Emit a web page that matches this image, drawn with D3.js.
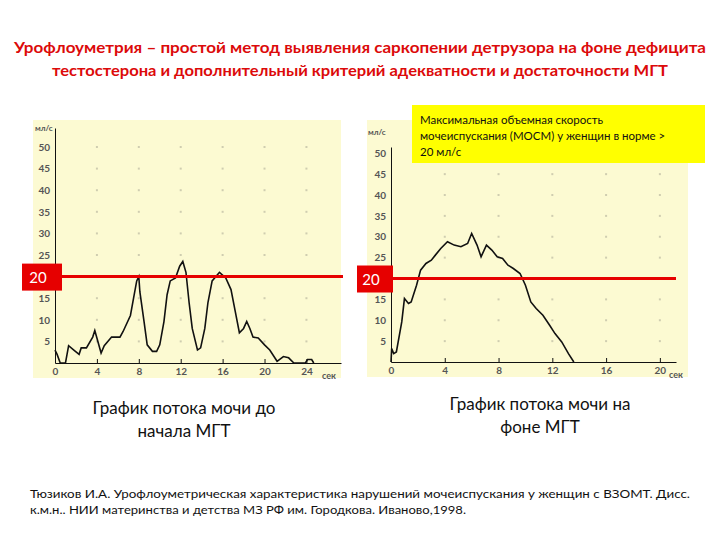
<!DOCTYPE html>
<html>
<head>
<meta charset="utf-8">
<script src="https://cdn.jsdelivr.net/npm/d3@7"></script>
<style>
  body { margin: 0; background: #fff; }
  text { font-family: Lato, "Open Sans", sans-serif; }
</style>
</head>
<body>
<div id="chart"></div>
<script>
// flow before therapy (sec, ml/s)
var beforeTime = [0, 0.2, 0.5, 1, 1.3, 1.8, 2.3, 2.5, 3, 3.6, 3.8, 4.4, 4.7, 5.4, 6.2, 6.5, 7.2, 7.5, 7.8, 8, 8.1, 8.5, 8.8, 9.3, 9.7, 10, 10.4, 10.7, 11, 11.5, 11.9, 12.2, 12.5, 12.8, 13.1, 13.6, 13.9, 14.3, 14.6, 15, 15.7, 16.3, 16.8, 17.2, 17.6, 18, 18.3, 18.6, 18.9, 19.4, 20, 20.5, 21.2, 21.8, 22.3, 22.8, 23.9, 24.1, 24.5, 24.7]
var beforeFlow = [3, 2, 0, 0, 4, 3, 2, 3.5, 3.5, 6, 7.5, 2.3, 4, 6, 6, 7.3, 11, 15, 19, 20, 16.5, 9.6, 4.2, 2.7, 2.7, 4.2, 9.6, 15.8, 19, 19.7, 22.4, 23.5, 21, 14, 8, 3, 3.5, 8, 14, 19, 21, 19.7, 17, 12, 7, 8, 9.6, 8, 6, 5.8, 4.2, 3, 0.4, 1.5, 1.2, 0, 0, 0.8, 0.8, 0]

// flow on therapy
var afterTime = [0, 0.05, 0.2, 0.4, 0.8, 1, 1.3, 1.5, 1.9, 2.2, 2.6, 3, 3.3, 3.7, 4.2, 4.7, 5.2, 5.7, 6, 6.4, 6.7, 7.1, 7.5, 7.9, 8.3, 8.7, 9.1, 9.6, 10, 10.4, 10.8, 11.3, 11.8, 12.2, 12.7, 13.2, 13.6]
var afterFlow = [0, 3.2, 2, 2.4, 9.6, 15.2, 14, 14.4, 18.4, 22, 23.6, 24.4, 25.6, 27.2, 28.8, 28, 27.6, 28.4, 30.8, 28, 25.2, 28, 26.8, 25.2, 24.8, 23.2, 22.4, 21.2, 18.4, 14.4, 12.8, 11.2, 8.8, 6.8, 4.8, 2, 0]

var yTicks = [5, 10, 15, 20, 25, 30, 35, 40, 45, 50]
var beforeXTicks = [0, 4, 8, 12, 16, 20, 24]
var afterXTicks = [0, 4, 8, 12, 16, 20]
var normFlow = 20

var titleLines = ['Урофлоуметрия –  простой  метод выявления саркопении детрузора  на фоне дефицита',
    'тестостерона и дополнительный критерий  адекватности и достаточности МГТ']
var noteLines = ['Максимальная  объемная скорость', 'мочеиспускания (МОСМ) у женщин в норме >', '20 мл/с']
var captionBefore = ['График потока мочи  до', 'начала МГТ']
var captionAfter = ['График потока  мочи на', 'фоне МГТ']
var sourceLines = ['Тюзиков   И.А. Урофлоуметрическая   характеристика нарушений  мочеиспускания  у  женщин  с  ВЗОМТ.  Дисс.',
    'к.м.н..  НИИ материнства и детства МЗ РФ им. Городкова.  Иваново,1998.']

var svg = d3.select('#chart').append('svg')
    .attr('width', 720)
    .attr('height', 540)

// title
svg.selectAll('.title')
    .data(titleLines)
    .enter().append('text')
    .attr('x', 360)
    .attr('y', (d, i) => 53 + i * 23)
    .attr('text-anchor', 'middle')
    .attr('font-size', 15)
    .attr('font-weight', 'bold')
    .attr('fill', '#dc0a0a')
    .attr('textLength', (d, i) => i == 0 ? 692 : 616)
    .attr('lengthAdjust', 'spacingAndGlyphs')
    .text(d => d)

function drawPanel(cfg) {
    var g = svg.append('g')

    g.append('rect')
        .attr('x', cfg.bg[0]).attr('y', cfg.bg[1])
        .attr('width', cfg.bg[2]).attr('height', cfg.bg[3])
        .attr('fill', '#fcfad2')

    var x = d3.scaleLinear().domain(cfg.xDomain).range(cfg.xRange)
    var y = d3.scaleLinear().domain(cfg.yDomain).range(cfg.yRange)

    // grid marks at tick crossings
    var cross = []
    cfg.xTicks.slice(1).forEach(a => yTicks.forEach(b => cross.push([a, b])))
    g.selectAll('.dot')
        .data(cross)
        .enter().append('rect')
        .attr('x', d => x(d[0]) - 1)
        .attr('y', d => y(d[1]) - 1)
        .attr('width', 2).attr('height', 2)
        .attr('fill', '#cfcdb0')

    var xAxis = g.append('g')
        .attr('transform', 'translate(0,' + cfg.yRange[0] + ')')
        .call(d3.axisBottom(x).tickValues(cfg.xTicks).tickSizeInner(-4).tickSizeOuter(0).tickPadding(5))
    // the 20 label sits under the red marker, so it is left out
    var yAxis = g.append('g')
        .attr('transform', 'translate(' + cfg.xRange[0] + ',0)')
        .call(d3.axisLeft(y).tickValues(yTicks.filter(v => v != normFlow)).tickSize(0).tickPadding(5))

    ;[xAxis, yAxis].forEach(a => {
        a.select('.domain').attr('stroke', '#111')
        a.selectAll('line').attr('stroke', '#111')
        a.selectAll('text')
            .attr('font-family', '"DejaVu Sans Condensed", "DejaVu Sans", sans-serif')
            .attr('font-size', 10)
            .attr('font-weight', 'bold')
            .attr('fill', '#555')
    })

    g.append('text')
        .attr('x', cfg.unitPos[0]).attr('y', cfg.unitPos[1])
        .attr('font-family', '"DejaVu Sans Condensed", sans-serif')
        .attr('font-size', 8).attr('font-weight', 'bold').attr('fill', '#555')
        .text('мл/с')
    g.append('text')
        .attr('x', cfg.secPos[0]).attr('y', cfg.secPos[1])
        .attr('font-family', '"DejaVu Sans Condensed", sans-serif')
        .attr('font-size', 9).attr('font-weight', 'bold').attr('fill', '#555')
        .text('сек')

    var line = d3.line()
        .x(d => x(d[0]))
        .y(d => y(d[1]))
    g.append('path')
        .datum(cfg.time.map((t, i) => [t, cfg.flow[i]]))
        .attr('d', line)
        .attr('fill', 'none')
        .attr('stroke', '#111')
        .attr('stroke-width', 1.6)

    // norm line 20 ml/s
    g.append('line')
        .attr('x1', cfg.redBox[0] + cfg.redBox[2]).attr('x2', cfg.redEnd)
        .attr('y1', y(normFlow)).attr('y2', y(normFlow))
        .attr('stroke', '#e60000')
        .attr('stroke-width', 3)
    g.append('rect')
        .attr('x', cfg.redBox[0]).attr('y', y(normFlow) - 13)
        .attr('width', cfg.redBox[2]).attr('height', 27)
        .attr('fill', '#e60000')
    g.append('text')
        .attr('x', cfg.redBox[0] + cfg.redBox[2] / 2 - 4)
        .attr('y', y(normFlow) + 6)
        .attr('text-anchor', 'middle')
        .attr('font-size', 15)
        .attr('fill', '#fff')
        .text(normFlow)

    g.selectAll('.cap')
        .data(cfg.caption)
        .enter().append('text')
        .attr('x', cfg.capX)
        .attr('y', (d, i) => cfg.capY + i * 23)
        .attr('text-anchor', 'middle')
        .attr('font-size', 17)
        .attr('fill', '#111')
        .text(d => d)
}

drawPanel({
    bg: [33, 120, 308, 258],
    xDomain: [0, 27.3], xRange: [55, 341],
    yDomain: [0, 54.4], yRange: [363, 128],
    xTicks: beforeXTicks,
    time: beforeTime, flow: beforeFlow,
    unitPos: [35, 131], secPos: [322, 379],
    redBox: [22, 0, 40], redEnd: 343,
    caption: captionBefore, capX: 184, capY: 414
})

drawPanel({
    bg: [367, 120, 321, 257],
    xDomain: [0, 21.2], xRange: [391, 676],
    yDomain: [0, 51.5], yRange: [362, 147],
    xTicks: afterXTicks,
    time: afterTime, flow: afterFlow,
    unitPos: [368, 135], secPos: [669, 378],
    redBox: [357, 0, 36], redEnd: 676,
    caption: captionAfter, capX: 540, capY: 410
})

// yellow note
svg.append('rect')
    .attr('x', 412).attr('y', 105)
    .attr('width', 293).attr('height', 58)
    .attr('fill', '#ffff00')
svg.selectAll('.note')
    .data(noteLines)
    .enter().append('text')
    .attr('x', 420)
    .attr('y', (d, i) => 124 + i * 16)
    .attr('font-size', 11.5)
    .attr('fill', '#111')
    .text(d => d)

// source
svg.selectAll('.src')
    .data(sourceLines)
    .enter().append('text')
    .attr('x', 30)
    .attr('y', (d, i) => 498 + i * 16)
    .attr('font-size', 11)
    .attr('fill', '#111')
    .attr('textLength', (d, i) => i == 0 ? 660 : 436)
    .attr('lengthAdjust', 'spacingAndGlyphs')
    .text(d => d)
</script>
</body>
</html>
